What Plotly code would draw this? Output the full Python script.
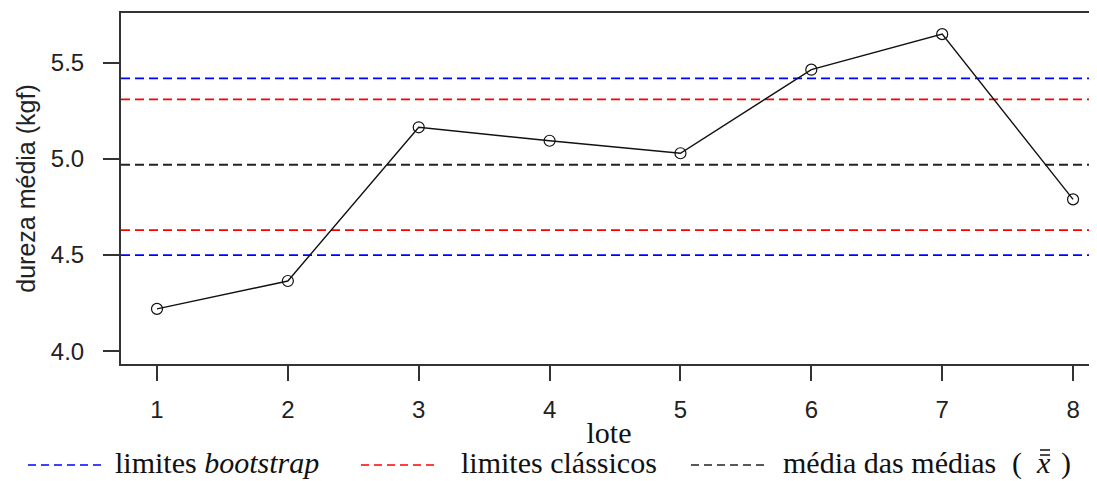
import plotly.graph_objects as go

# ---- data ----
lotes = [1, 2, 3, 4, 5, 6, 7, 8]
dureza_media = [4.22, 4.365, 5.165, 5.095, 5.03, 5.465, 5.65, 4.79]
limites_bootstrap = [4.50, 5.42]
limites_classicos = [4.63, 5.31]
media_das_medias = 4.97
x_ticks = [1, 2, 3, 4, 5, 6, 7, 8]
y_ticks = [4.0, 4.5, 5.0, 5.5]
y_tick_labels = ["4.0", "4.5", "5.0", "5.5"]
legend_labels = ["limites <i>bootstrap</i>", "limites clássicos", "média das médias"]
legend_colors = ["#0000FF", "#FF0000", "#222222"]

SANS = "Liberation Sans, Arial, sans-serif"
SERIF = "Liberation Serif, Times New Roman, serif"
DASH = "9px,5px"

# page is shown with an 8px body margin; compensate so the plot area lands where the reference has it
OFF = 8
PLOT_L, PLOT_T, PLOT_B = 121, 13, 364
FIG_W, FIG_H = 1097 - OFF, 481 - OFF
W_PLOT = FIG_W - (PLOT_L - OFF)
H_PLOT = PLOT_B - PLOT_T

fig = go.Figure()

for y in limites_bootstrap:
    fig.add_hline(y=y, line=dict(color="#0000FF", width=1.8, dash=DASH), layer="below")
for y in limites_classicos:
    fig.add_hline(y=y, line=dict(color="#FF0000", width=1.8, dash=DASH), layer="below")
fig.add_hline(y=media_das_medias, line=dict(color="#222222", width=1.8, dash=DASH), layer="below")

fig.add_trace(go.Scatter(
    x=lotes, y=dureza_media, mode="lines+markers",
    line=dict(color="#111111", width=1.4),
    marker=dict(symbol="circle-open", size=11, color="#111111", line=dict(width=1.2)),
    showlegend=False, hoverinfo="x+y",
))

# custom legend below the plot (paper coordinates, from page pixels)
def px_x(p):
    return (p - PLOT_L) / W_PLOT
def px_y(p):
    return (PLOT_B - p) / H_PLOT

LEG_Y = 463
leg_font = dict(family=SERIF, size=30, color="#111111")
leg_line_x = [(28, 103), (361, 437), (691, 767)]
leg_text_x = [114, 460, 782]
for (x0, x1), tx, lab, col in zip(leg_line_x, leg_text_x, legend_labels, legend_colors):
    fig.add_shape(type="line", xref="paper", yref="paper",
                  x0=px_x(x0), x1=px_x(x1), y0=px_y(465), y1=px_y(465),
                  line=dict(color=col, width=1.6, dash="8px,5px"))
    fig.add_annotation(xref="paper", yref="paper", x=px_x(tx), y=px_y(LEG_Y),
                       xanchor="left", yanchor="middle", showarrow=False,
                       text=lab, font=leg_font, borderpad=0)
# grand-mean symbol "( x̿ )"
for sym, cx in [("(", 1017), ("<i>x</i>", 1043), (")", 1066)]:
    fig.add_annotation(xref="paper", yref="paper", x=px_x(cx), y=px_y(LEG_Y),
                       xanchor="center", yanchor="middle", showarrow=False,
                       text=sym, font=leg_font, borderpad=0)
for by in (450, 455):
    fig.add_shape(type="line", xref="paper", yref="paper",
                  x0=px_x(1040), x1=px_x(1050), y0=px_y(by), y1=px_y(by),
                  line=dict(color="#111111", width=1.5))

fig.update_layout(
    width=FIG_W, height=FIG_H,
    margin=dict(l=PLOT_L - OFF, r=0, t=PLOT_T - OFF, b=FIG_H - (PLOT_B - OFF)),
    paper_bgcolor="white", plot_bgcolor="white",
    showlegend=False,
)
fig.update_xaxes(
    range=[0.725, 8.183], tickvals=x_ticks, ticktext=[str(v) for v in x_ticks],
    showgrid=False, zeroline=False,
    showline=True, linecolor="#333333", linewidth=2, mirror=True,
    ticks="outside", ticklen=15, tickwidth=2, tickcolor="#333333",
    tickfont=dict(family=SANS, size=24, color="#222222"),
    ticklabelstandoff=8,
    title=dict(text="lote", font=dict(family=SERIF, size=30, color="#111111"), standoff=0),
)
fig.update_yaxes(
    range=[3.933, 5.76], tickvals=y_ticks, ticktext=y_tick_labels,
    showgrid=False, zeroline=False,
    showline=True, linecolor="#333333", linewidth=2,
    ticks="outside", ticklen=16, tickwidth=2, tickcolor="#333333",
    tickfont=dict(family=SANS, size=24, color="#222222"),
    ticklabelstandoff=14,
    title=dict(text="dureza média (kgf)", font=dict(family=SANS, size=25, color="#222222"), standoff=8),
)

fig.write_html("out.html")
